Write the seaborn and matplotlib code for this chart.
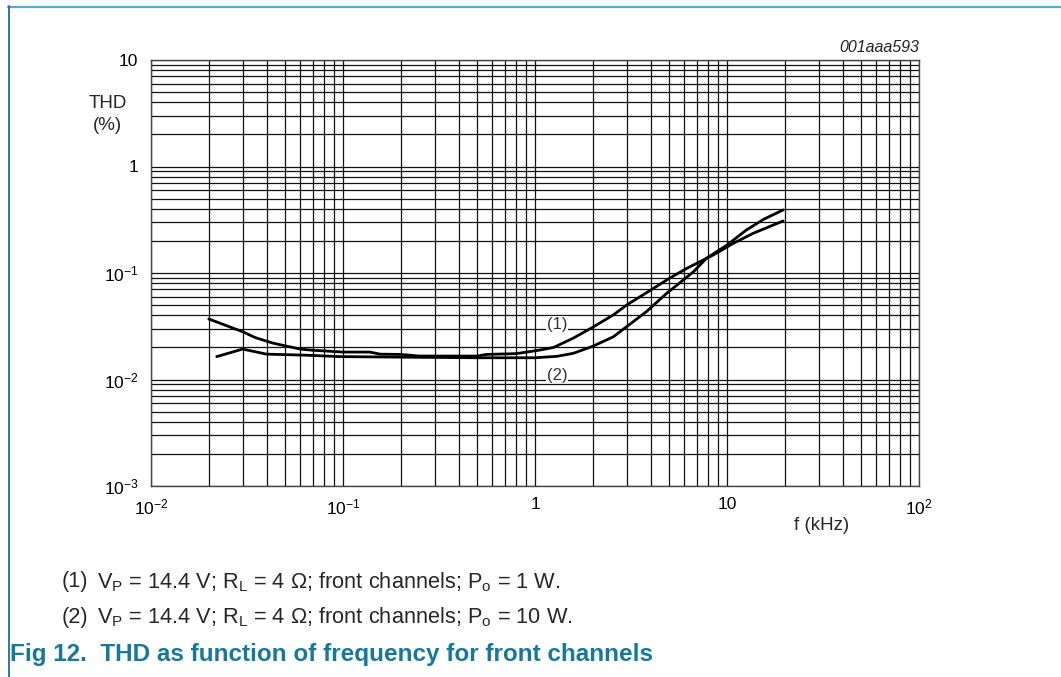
import numpy as np
import pandas as pd
import matplotlib
matplotlib.use("Agg")
import matplotlib.pyplot as plt
from matplotlib.lines import Line2D
from matplotlib.ticker import LogLocator, FixedLocator, FixedFormatter, NullFormatter
import seaborn as sns

# ---- data ----
freq_1w = [0.02, 0.025, 0.03, 0.035, 0.043, 0.05, 0.06, 0.07, 0.082, 0.1, 0.138, 0.156,
           0.2, 0.25, 0.5, 0.56, 0.8, 1.06, 1.25, 1.58, 2.0, 2.56, 3.0, 4.0, 5.0, 6.2,
           8.5, 10.8, 13.7, 19.6]
thd_1w = [0.037, 0.0318, 0.0281, 0.0247, 0.0220, 0.0207, 0.0193, 0.0188, 0.0185, 0.0181,
          0.0181, 0.0173, 0.0172, 0.0166, 0.0166, 0.0172, 0.0175, 0.0189, 0.0200, 0.0244,
          0.031, 0.0404, 0.050, 0.069, 0.089, 0.111, 0.148, 0.190, 0.236, 0.308]

freq_10w = [0.022, 0.03, 0.04, 0.065, 0.096, 0.215, 0.5, 1.0, 1.3, 1.58, 2.0, 2.56, 3.0,
            3.8, 4.85, 6.7, 7.8, 10.0, 12.6, 15.5, 19.6]
thd_10w = [0.0164, 0.0193, 0.0173, 0.0169, 0.0164, 0.0162, 0.0160, 0.0160, 0.0165, 0.0176,
           0.0205, 0.0252, 0.0313, 0.0433, 0.0644, 0.103, 0.137, 0.183, 0.253, 0.319, 0.391]

x_ticks = [0.01, 0.1, 1, 10, 100]
x_tick_labels = [r"$\mathregular{10^{-2}}$", r"$\mathregular{10^{-1}}$", "1", "10",
                 r"$\mathregular{10^{2}}$"]
y_ticks = [0.001, 0.01, 0.1, 1, 10]
y_tick_labels = [r"$\mathregular{10^{-3}}$", r"$\mathregular{10^{-2}}$",
                 r"$\mathregular{10^{-1}}$", "1", "10"]

curve_labels = ["(1)", "(2)"]
caption_1 = r"V$_\mathregular{P}$ = 14.4 V; R$_\mathregular{L}$ = 4 Ω; front channels; P$_\mathregular{o}$ = 1 W."
caption_2 = r"V$_\mathregular{P}$ = 14.4 V; R$_\mathregular{L}$ = 4 Ω; front channels; P$_\mathregular{o}$ = 10 W."
title_text = "Fig 12.  THD as function of frequency for front channels"
code_text = "001aaa593"

df = pd.concat([
    pd.DataFrame({"f": freq_1w, "thd": thd_1w, "curve": "(1)"}),
    pd.DataFrame({"f": freq_10w, "thd": thd_10w, "curve": "(2)"}),
])

# ---- style ----
sns.set_style("white")
plt.rcParams["font.family"] = ["Liberation Sans", "DejaVu Sans"]
plt.rcParams["mathtext.fontset"] = "custom"
plt.rcParams["mathtext.rm"] = "Liberation Sans"
plt.rcParams["mathtext.it"] = "Liberation Sans:italic"
plt.rcParams["mathtext.bf"] = "Liberation Sans:bold"

W, H = 1061, 677
fig = plt.figure(figsize=(W / 100, H / 100), dpi=100)
ax_l, ax_r, ax_t, ax_b = 151, 919, 60, 486
ax = fig.add_axes([ax_l / W, 1 - ax_b / H, (ax_r - ax_l) / W, (ax_b - ax_t) / H])

sns.lineplot(data=df, x="f", y="thd", units="curve", estimator=None, sort=False,
             color="black", linewidth=2.0, ax=ax, legend=False)

ax.set_xscale("log")
ax.set_yscale("log")
ax.set_xlim(0.01, 100)
ax.set_ylim(0.001, 10)

ax.xaxis.set_major_locator(FixedLocator(x_ticks))
ax.xaxis.set_major_formatter(FixedFormatter(x_tick_labels))
ax.yaxis.set_major_locator(FixedLocator(y_ticks))
ax.yaxis.set_major_formatter(FixedFormatter(y_tick_labels))
ax.xaxis.set_minor_locator(LogLocator(base=10, subs=np.arange(2, 10), numticks=20))
ax.yaxis.set_minor_locator(LogLocator(base=10, subs=np.arange(2, 10), numticks=20))
ax.xaxis.set_minor_formatter(NullFormatter())
ax.yaxis.set_minor_formatter(NullFormatter())

ax.grid(True, which="both", color="#111111", linewidth=0.9)
ax.tick_params(which="both", length=0, labelsize=12.5, colors="black")
ax.tick_params(axis="x", pad=8)
ax.tick_params(axis="y", pad=9)
for s in ax.spines.values():
    s.set_color("#444444")
    s.set_linewidth(1.0)
ax.set_xlabel("")
ax.set_ylabel("")

# curve labels sitting on gridlines with white background
ax.text(1.30, 0.0328, curve_labels[0], ha="center", va="center",
        fontsize=12, color="#333333",
        bbox=dict(facecolor="white", edgecolor="none", pad=0.5), zorder=5)
ax.text(1.30, 0.0110, curve_labels[1], ha="center", va="center",
        fontsize=12, color="#333333",
        bbox=dict(facecolor="white", edgecolor="none", pad=0.5), zorder=5)

# axis titles
fig.text(108 / W, 1 - 103 / H, "THD", ha="center", va="center", fontsize=13.5)
fig.text(107 / W, 1 - 126 / H, "(%)", ha="center", va="center", fontsize=13.5)
fig.text(822 / W, 1 - 526 / H, "f (kHz)", ha="center", va="center", fontsize=13.5)
fig.text(919 / W, 1 - 48 / H, code_text, ha="right", va="center", fontsize=11.5,
         style="italic", color="#222222")

# captions
fig.text(62 / W, 1 - 582 / H, "(1)", ha="left", va="center", fontsize=15.7)
fig.text(97 / W, 1 - 582 / H, caption_1, ha="left", va="center", fontsize=15.7)
fig.text(62 / W, 1 - 617 / H, "(2)", ha="left", va="center", fontsize=15.7)
fig.text(97 / W, 1 - 617 / H, caption_2, ha="left", va="center", fontsize=15.7)
fig.text(10 / W, 1 - 655 / H, title_text, ha="left", va="center", fontsize=17.5,
         fontweight="bold", color="#17789b")

# page frame lines
fig.add_artist(Line2D([8 / W, 1.0], [1 - 6.5 / H, 1 - 6.5 / H], color="#55a9cf",
                      linewidth=1.6, transform=fig.transFigure))
fig.add_artist(Line2D([8.5 / W, 8.5 / W], [0, 1 - 6 / H], color="#1b6f8f",
                      linewidth=1.3, transform=fig.transFigure))

fig.savefig("out.png", dpi=100)
